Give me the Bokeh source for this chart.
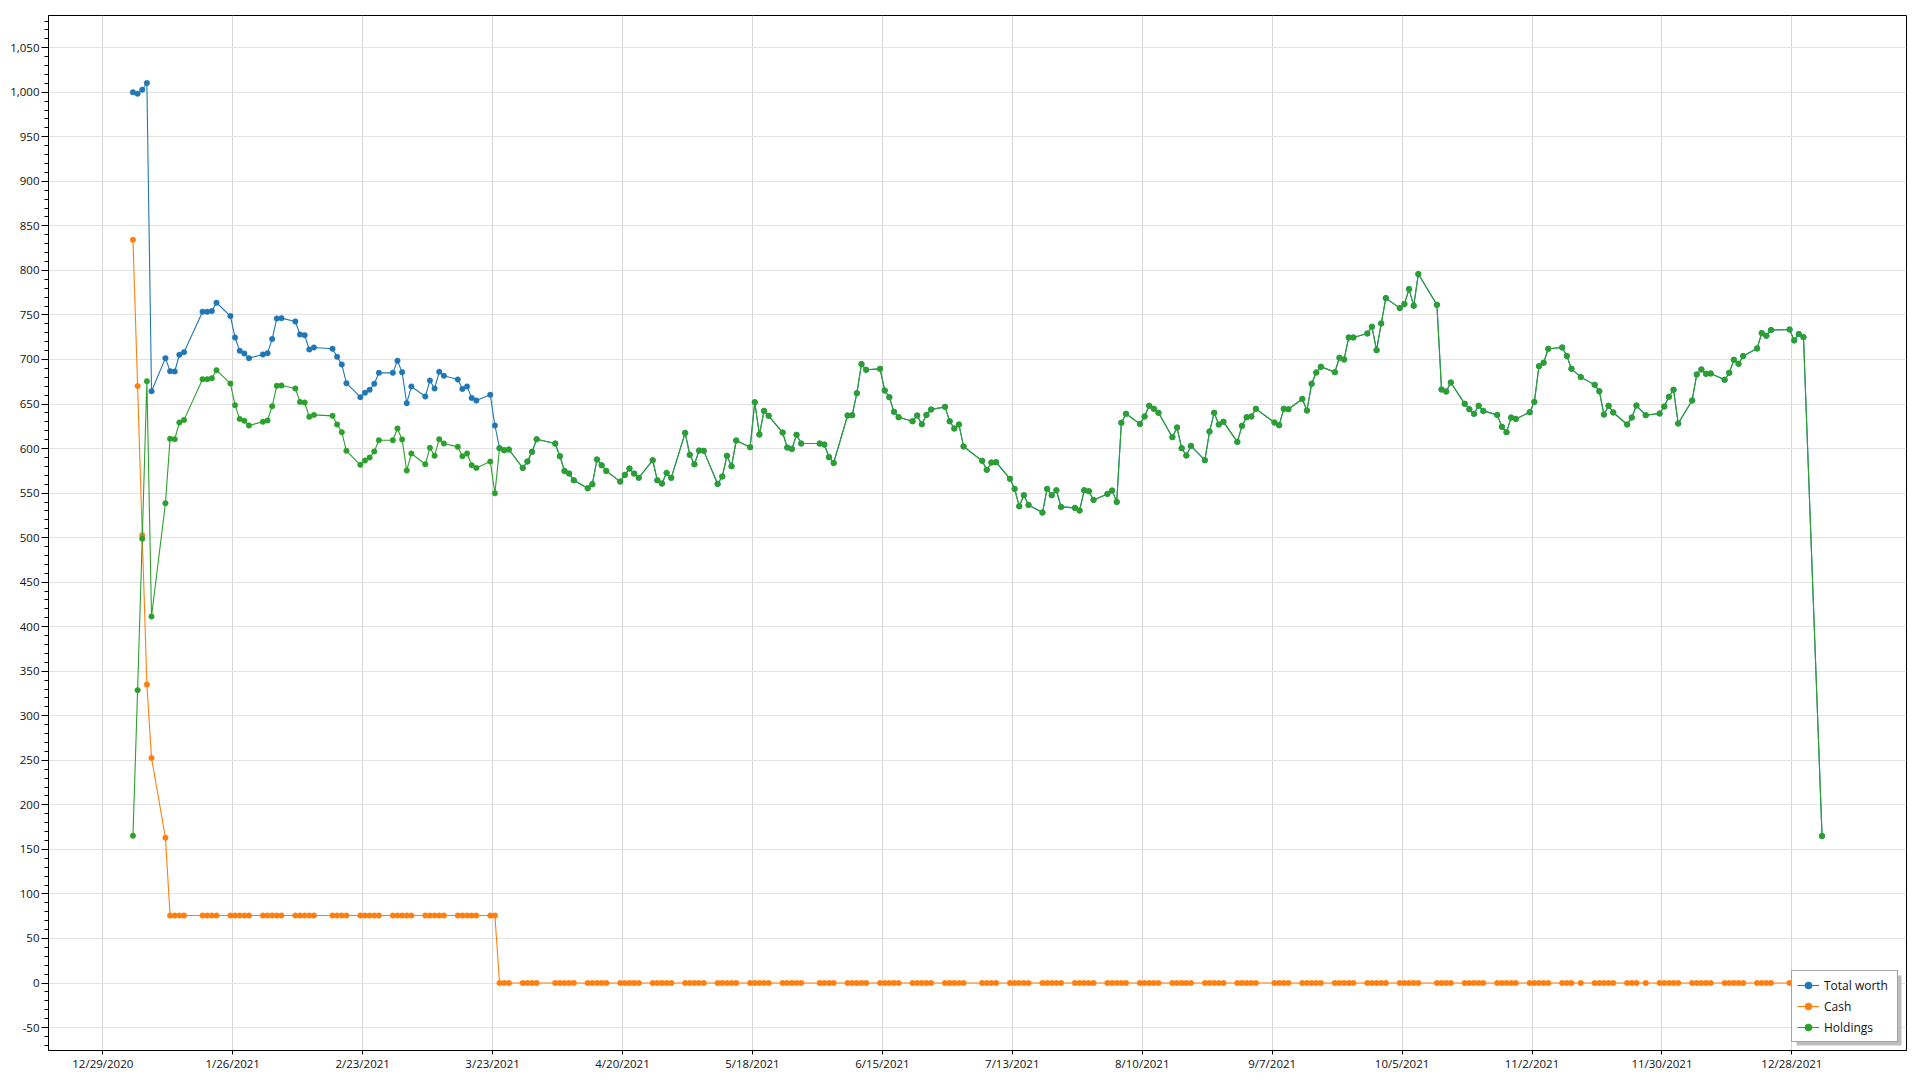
import pandas as pd
from bokeh.plotting import figure
from bokeh.models import (ColumnDataSource, FixedTicker, SingleIntervalTicker,
                          NumeralTickFormatter, CustomJSTickFormatter, Range1d,
                          Legend, LegendItem, BoxAnnotation)
from bokeh.embed import file_html
from bokeh.resources import INLINE

# ---------------- trading days (month -> days) ----------------
days_2021_01 = [4, 5, 6, 7, 8, 11, 12, 13, 14, 15, 19, 20, 21, 22, 25, 26, 27, 28, 29]
days_2021_02 = [1, 2, 3, 4, 5, 8, 9, 10, 11, 12, 16, 17, 18, 19, 22, 23, 24, 25, 26]
days_2021_03 = [1, 2, 3, 4, 5, 8, 9, 10, 11, 12, 15, 16, 17, 18, 19, 22, 23, 24, 25, 26, 29, 30, 31]
days_2021_04 = [1, 5, 6, 7, 8, 9, 12, 13, 14, 15, 16, 19, 20, 21, 22, 23, 26, 27, 28, 29, 30]
days_2021_05 = [3, 4, 5, 6, 7, 10, 11, 12, 13, 14, 17, 18, 19, 20, 21, 24, 25, 26, 27, 28]
days_2021_06 = [1, 2, 3, 4, 7, 8, 9, 10, 11, 14, 15, 16, 17, 18, 21, 22, 23, 24, 25, 28, 29, 30]
days_2021_07 = [1, 2, 6, 7, 8, 9, 12, 13, 14, 15, 16, 19, 20, 21, 22, 23, 26, 27, 28, 29, 30]
days_2021_08 = [2, 3, 4, 5, 6, 9, 10, 11, 12, 13, 16, 17, 18, 19, 20, 23, 24, 25, 26, 27, 30, 31]
days_2021_09 = [1, 2, 3, 7, 8, 9, 10, 13, 14, 15, 16, 17, 20, 21, 22, 23, 24, 27, 28, 29, 30]
days_2021_10 = [1, 4, 5, 6, 7, 8, 12, 13, 14, 15, 18, 19, 20, 21, 22, 25, 26, 27, 28, 29]
days_2021_11 = [1, 2, 3, 4, 5, 8, 9, 10, 12, 15, 16, 17, 18, 19, 22, 23, 24, 26, 29, 30]
days_2021_12 = [1, 2, 3, 6, 7, 8, 9, 10, 13, 14, 15, 16, 17, 20, 21, 22, 23, 27, 28, 29, 30]
days_2022_01 = [3]

# ---------------- Holdings ----------------
holdings_jan = [165.4, 328.8, 498.8, 675.6, 411.5, 538.6, 610.9, 610.5, 629.2, 632.2,
                677.9, 677.9, 679.0, 688.0, 673.0, 648.7, 633.3, 631.1, 625.9]
holdings_feb = [630.0, 631.5, 647.6, 670.4, 670.8, 667.4, 652.4, 651.7, 635.6, 637.8,
                636.7, 627.0, 618.4, 597.4, 581.7, 586.5, 589.9, 596.7, 609.4]
holdings_mar = [609.4, 622.5, 610.1, 575.3, 594.4, 582.4, 600.8, 591.8, 610.5, 605.6,
                601.9, 591.4, 594.4, 581.3, 578.3, 585.4, 549.8, 600.4, 598.1, 598.9,
                578.3, 585.4, 596.3]
holdings_apr = [610.5, 605.6, 591.4, 574.9, 571.9, 564.4, 555.5, 560.0, 587.7, 581.3,
                574.9, 562.9, 570.4, 577.5, 571.9, 567.1, 586.9, 564.4, 560.7, 572.7, 567.1]
holdings_may = [617.6, 593.0, 582.4, 597.7, 597.4, 560.3, 568.6, 591.8, 580.2, 609.0,
                601.5, 652.0, 615.7, 642.3, 636.7, 618.0, 601.1, 599.6, 615.4, 605.6]
holdings_jun = [605.6, 604.5, 590.3, 583.9, 637.1, 637.5, 662.2, 694.8, 688.4, 689.5,
                665.2, 657.7, 641.2, 635.2, 630.7, 637.1, 627.4, 637.8, 643.8, 646.8,
                630.7, 622.5]
holdings_jul = [627.0, 602.3, 586.2, 576.1, 584.3, 584.7, 566.0, 554.7, 535.2, 547.6,
                536.7, 528.1, 554.7, 547.6, 553.2, 534.5, 533.4, 530.4, 553.2, 552.1, 542.3]
holdings_aug = [549.1, 552.8, 540.1, 628.9, 639.0, 627.7, 636.0, 648.0, 644.6, 640.1,
                612.8, 623.6, 600.4, 592.2, 603.0, 586.9, 619.1, 640.1, 627.0, 630.0,
                607.5, 625.5]
holdings_sep = [635.2, 636.0, 644.6, 629.2, 626.2, 644.6, 644.2, 655.6, 642.7, 672.7,
                685.4, 691.8, 685.8, 701.9, 700.0, 724.7, 724.7, 729.2, 736.7, 710.5, 740.5]
holdings_oct = [768.9, 757.7, 762.2, 779.0, 760.3, 795.9, 761.4, 666.3, 664.1, 674.2,
                650.2, 644.2, 639.0, 648.0, 642.3, 637.8, 624.4, 618.4, 634.8, 633.3]
holdings_nov = [640.8, 652.4, 692.5, 696.3, 712.0, 713.5, 703.8, 689.5, 680.2, 671.5,
                664.4, 638.2, 648.0, 640.5, 627.0, 634.8, 648.3, 637.5, 639.3, 647.2]
holdings_dec = [658.1, 666.0, 628.1, 654.0, 683.2, 688.8, 683.9, 684.3, 677.2, 685.0,
                699.6, 695.1, 703.8, 712.4, 729.6, 726.6, 733.0, 733.7, 721.4, 728.5, 725.1]
holdings_jan22 = [165.0]

# ---------------- Cash ----------------
cash_jan = [834.3, 670.1, 502.8, 335.0, 252.7, 163.1] + [75.7] * 13
cash_feb = [75.7] * 19
cash_mar = [75.7] * 17 + [0.0] * 6
cash_rest = [0.0] * (21 + 20 + 22 + 21 + 22 + 21 + 20 + 20 + 21 + 1)

# ---------------- Total worth (Jan 4 - Mar 23 read separately; equal to holdings afterwards) ----------------
total_jan = [1000.0, 998.4, 1002.8, 1010.4, 664.4, 701.5, 686.9, 686.5, 705.3, 708.2,
             753.6, 753.6, 754.3, 763.7, 748.7, 724.7, 709.7, 706.7, 701.5]
total_feb = [705.6, 707.1, 722.9, 746.1, 746.4, 742.7, 728.1, 727.3, 711.2, 713.5,
             712.0, 703.0, 694.4, 673.4, 657.7, 662.6, 665.9, 672.7, 685.0]
total_mar_to_23 = [685.0, 698.5, 685.8, 650.9, 669.7, 658.4, 676.4, 667.4, 686.2, 681.7,
                   677.5, 667.0, 669.7, 656.9, 653.9, 660.3, 625.9]

# ---------------- x-axis tick labels ----------------
tick_labels = ["12/29/2020", "1/26/2021", "2/23/2021", "3/23/2021", "4/20/2021",
               "5/18/2021", "6/15/2021", "7/13/2021", "8/10/2021", "9/7/2021",
               "10/5/2021", "11/2/2021", "11/30/2021", "12/28/2021"]

# ---------------- assemble ----------------
month_days = [("2021-01", days_2021_01), ("2021-02", days_2021_02), ("2021-03", days_2021_03),
              ("2021-04", days_2021_04), ("2021-05", days_2021_05), ("2021-06", days_2021_06),
              ("2021-07", days_2021_07), ("2021-08", days_2021_08), ("2021-09", days_2021_09),
              ("2021-10", days_2021_10), ("2021-11", days_2021_11), ("2021-12", days_2021_12),
              ("2022-01", days_2022_01)]
date_strings = [f"{m}-{d:02d}" for m, ds in month_days for d in ds]

holdings = (holdings_jan + holdings_feb + holdings_mar + holdings_apr + holdings_may +
            holdings_jun + holdings_jul + holdings_aug + holdings_sep + holdings_oct +
            holdings_nov + holdings_dec + holdings_jan22)
cash = cash_jan + cash_feb + cash_mar + cash_rest
total_worth = total_jan + total_feb + total_mar_to_23 + holdings_mar[17:] + (
    holdings_apr + holdings_may + holdings_jun + holdings_jul + holdings_aug +
    holdings_sep + holdings_oct + holdings_nov + holdings_dec + holdings_jan22)

assert len(date_strings) == len(holdings) == len(cash) == len(total_worth)

# points are stamped at midday
dts = pd.to_datetime(date_strings) + pd.Timedelta(hours=12)
x_ms = (dts.astype("int64") // 10**6).astype(float).tolist()

src = ColumnDataSource(dict(x=x_ms, total=total_worth, cash=cash, hold=holdings))

tick_ms = (pd.to_datetime(tick_labels, format="%m/%d/%Y").astype("int64") // 10**6).astype(float).tolist()

xspan = max(x_ms) - min(x_ms)
all_vals = total_worth + cash + holdings
yspan = max(all_vals) - min(all_vals)
x0, x1 = min(x_ms) - 0.05 * xspan, max(x_ms) + 0.05 * xspan
y0, y1 = min(all_vals) - 0.075 * yspan, max(all_vals) + 0.075 * yspan

FONT = "Open Sans"
W, H = 1914, 1074
BL, BR, BT, BB = 48, 8, 15, 24
FRAME_W, FRAME_H = W - BL - BR, H - BT - BB

p = figure(width=W, height=H, output_backend="svg", toolbar_location=None,
           x_range=Range1d(x0, x1), y_range=Range1d(y0, y1),
           min_border_left=BL, min_border_right=BR, min_border_top=BT, min_border_bottom=BB)

p.background_fill_color = "white"
p.border_fill_color = "white"
p.outline_line_color = "black"
p.outline_line_width = 1
p.outline_line_alpha = 1

colors = {"total": "#1f77b4", "cash": "#ff7f0e", "hold": "#2ca02c"}
names = [("total", "Total worth"), ("cash", "Cash"), ("hold", "Holdings")]
items = []
for key, label in names:
    ln = p.line("x", key, source=src, line_color=colors[key], line_width=1.1)
    sc = p.scatter("x", key, source=src, size=5.5, marker="circle",
                   fill_color=colors[key], line_color=colors[key], line_width=0.5)
    items.append(LegendItem(label=label, renderers=[ln, sc]))

# x axis
p.xaxis.ticker = FixedTicker(ticks=tick_ms, minor_ticks=[])
p.xaxis.formatter = CustomJSTickFormatter(code="""
    const d = new Date(tick);
    return (d.getUTCMonth() + 1) + "/" + d.getUTCDate() + "/" + d.getUTCFullYear();
""")
p.xaxis.major_tick_out = 4
p.xaxis.major_tick_in = 0
p.xaxis.major_label_standoff = 1

# y axis
p.yaxis.ticker = SingleIntervalTicker(interval=50, num_minor_ticks=5)
p.yaxis.formatter = NumeralTickFormatter(format="0,0")
p.yaxis.major_tick_out = 7
p.yaxis.major_tick_in = 0
p.yaxis.minor_tick_out = 4
p.yaxis.minor_tick_in = 0
p.yaxis.major_label_standoff = 2

for ax in (p.xaxis, p.yaxis):
    ax.axis_line_color = "black"
    ax.axis_line_width = 1
    ax.major_tick_line_color = "black"
    ax.minor_tick_line_color = "black"
    ax.major_label_text_font = FONT
    ax.major_label_text_font_size = "11.5px"
    ax.major_label_text_color = "#111111"
p.xaxis.minor_tick_line_color = None

p.xgrid.grid_line_color = "#d6d6d6"
p.ygrid.grid_line_color = "#e3e3e3"
p.xgrid.grid_line_width = 1
p.ygrid.grid_line_width = 1

# legend geometry (px)
PAD, SPACING, GW, GH, LW, LH, STAND, MARGIN = 5, 3, 22, 18, 68, 18, 5, 8
LEG_W = 2 * PAD + GW + STAND + LW
LEG_H = 2 * PAD + 3 * LH + 2 * SPACING
SH = 3  # shadow offset

# drop shadow behind the legend (decorative), placed by converting px to data units
dx = (x1 - x0) / FRAME_W
dy = (y1 - y0) / FRAME_H
shadow = BoxAnnotation(left=x1 - (MARGIN + LEG_W - SH) * dx, right=x1 - (MARGIN - SH) * dx,
                       bottom=y0 + (MARGIN - SH) * dy, top=y0 + (MARGIN + LEG_H - SH) * dy,
                       fill_color="#bdbdbd", fill_alpha=1.0, line_color=None)
p.add_layout(shadow)

legend = Legend(items=items, location="bottom_right", margin=MARGIN,
                padding=PAD, spacing=SPACING, glyph_width=GW, glyph_height=GH,
                label_width=LW, label_height=LH, label_standoff=STAND,
                label_text_font=FONT, label_text_font_size="12px",
                label_text_color="#111111",
                border_line_color="#4a4a4a", border_line_width=1.5,
                background_fill_color="white", background_fill_alpha=1.0)
p.add_layout(legend)

open("out.html", "w").write(file_html(p, INLINE))
